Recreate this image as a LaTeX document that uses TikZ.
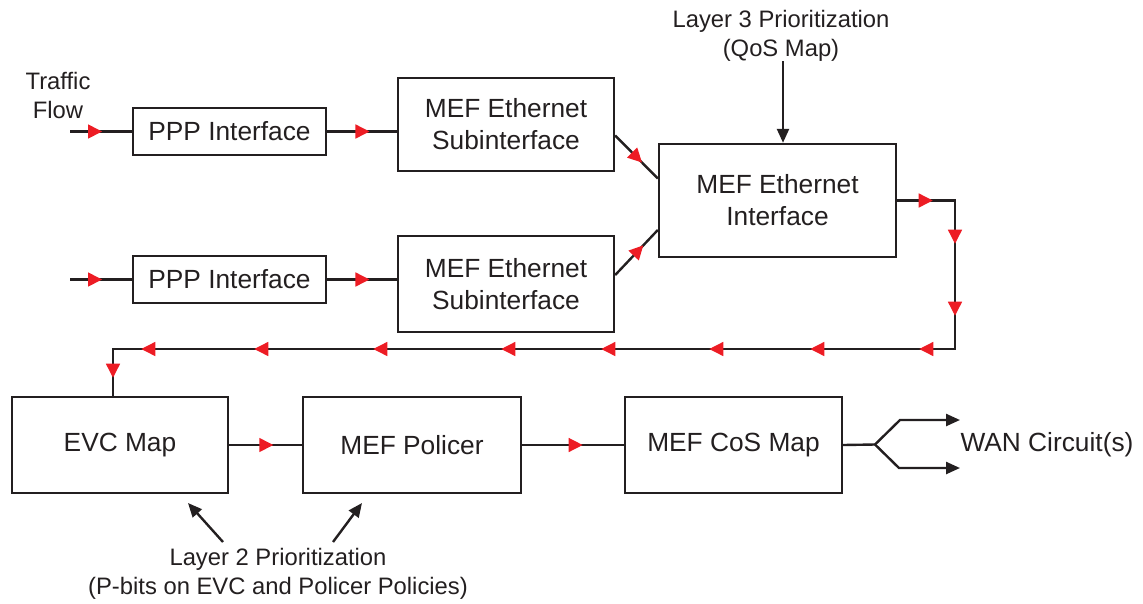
\documentclass[tikz,border=0pt]{standalone}
\usepackage{fontspec}
\setmainfont{Liberation Sans}
\usetikzlibrary{arrows.meta,decorations.markings,calc}
\definecolor{ink}{HTML}{231F20}
\definecolor{flowred}{HTML}{ED1C24}
\newcommand{\redtri}{\fill[flowred] (0.5pt,0pt) -- (-13.5pt,7.2pt) -- (-13.5pt,-7.2pt) -- cycle;}
\tikzset{
  box/.style={draw=ink, line width=2.4pt, inner sep=0pt, align=center,
    font=\fontsize{26.3}{32}\selectfont, text=ink},
  lbl/.style={align=center, font=\fontsize{23.8}{29}\selectfont, text=ink, inner sep=0pt},
  wire/.style={draw=ink, line width=2.4pt},
  flowat/.style={postaction={decorate, decoration={markings, mark=at position #1 with {\redtri}}}},
  blackarrow/.style={wire, -{Triangle[length=14pt,width=12pt]}},
}
\begin{document}
\begin{tikzpicture}[x=1pt,y=-1pt]
\useasboundingbox (0,0) rectangle (1143,603);

% boxes
\node[box, minimum width=193pt, minimum height=47pt] (ppp1) at (229.5,131.5) {PPP Interface};
\node[box, minimum width=216pt, minimum height=93pt] (sub1) at (506,124.5) {MEF Ethernet\\Subinterface};
\node[box, minimum width=237pt, minimum height=113pt] (eth) at (777.5,200.5) {MEF Ethernet\\Interface};
\node[box, minimum width=193pt, minimum height=47pt] (ppp2) at (229.5,279.5) {PPP Interface};
\node[box, minimum width=216pt, minimum height=96pt] (sub2) at (506,284) {MEF Ethernet\\Subinterface};
\node[box, minimum width=216pt, minimum height=96pt] (evc) at (120,445) {EVC Map};
\node[box, minimum width=218pt, minimum height=96pt] (pol) at (412,445) {MEF Policer};
\node[box, minimum width=217pt, minimum height=96pt] (cos) at (733.5,445) {MEF CoS Map};

% labels
\node[lbl] (tf) at (58,95) {Traffic\\Flow};
\node[lbl] (l3) at (781,36) {Layer 3 Prioritization\\(QoS Map)};
\node[lbl] (l2) at (278,574) {Layer 2 Prioritization\\(P-bits on EVC and Policer Policies)};
\node[lbl, font=\fontsize{26.3}{32}\selectfont] (wan) at (1047,445) {WAN Circuit(s)};

% free ends
\coordinate (in1) at (70,131.5);
\coordinate (in2) at (70,279.5);
\coordinate (rc1) at (955,200.5);
\coordinate (rc2) at (955,349);
\coordinate (rc3) at (113,349);
\coordinate (fk) at (875,444.5);
\coordinate (fu) at (900,420);
\coordinate (fd) at (899,468);
\coordinate (wu) at (960,420);
\coordinate (wd) at (960,468);
\coordinate (l3a) at (783,61);
\coordinate (l2a) at (223,542);
\coordinate (l2at) at (188,503);
\coordinate (l2b) at (333,542);
\coordinate (l2bt) at (362,503);

% flow connectors
\draw[wire, flowat=0.51] (in1) -- (ppp1.west);
\draw[wire, flowat=0.6] (ppp1.east) -- (ppp1.east -| sub1.west);
\draw[wire, flowat=0.51] (in2) -- (ppp2.west);
\draw[wire, flowat=0.6] (ppp2.east) -- (ppp2.east -| sub2.west);
\draw[wire, flowat=0.62] ([yshift=-11pt]sub1.east) -- ([yshift=22pt]eth.west);
\draw[wire, flowat=0.65] ([yshift=9pt]sub2.east) -- ([yshift=-29.5pt]eth.west);
\draw[wire, flowat=35pt, flowat=100.5pt, flowat=172.5pt, flowat=241.5pt,
  flowat=350.5pt, flowat=451.5pt, flowat=559.5pt, flowat=659.5pt,
  flowat=787.5pt, flowat=906.5pt, flowat=1019.5pt, flowat=1076.5pt]
  (eth.east) -- (rc1) -- (rc2) -- (rc3) -- (rc3 |- evc.north);
\draw[wire, flowat=0.6] (evc.east) -- (pol.west);
\draw[wire, flowat=0.59] (pol.east) -- (cos.west);

% outputs
\draw[wire] (cos.east) -- (fk);
\draw[blackarrow] (fk) -- (fu) -- (wu);
\draw[blackarrow] (fk) -- (fd) -- (wd);

% prioritization arrows
\draw[blackarrow] (l3a) -- (l3a |- eth.north);
\draw[blackarrow] (l2a) -- (l2at);
\draw[blackarrow] (l2b) -- (l2bt);
\end{tikzpicture}
\end{document}
